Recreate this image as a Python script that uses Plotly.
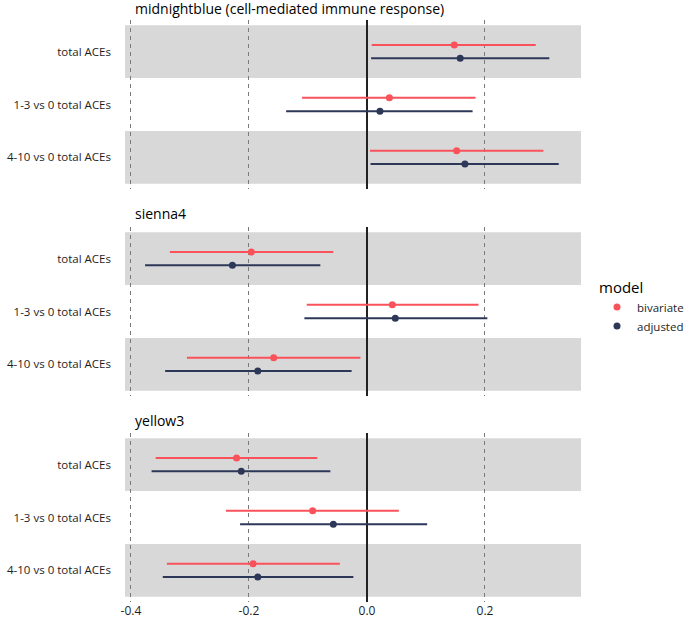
import plotly.graph_objects as go
from plotly.subplots import make_subplots

# ---------------- data ----------------
panels = ["midnightblue (cell-mediated immune response)", "sienna4", "yellow3"]
categories = ["total ACEs", "1-3 vs 0 total ACEs", "4-10 vs 0 total ACEs"]
models = ["bivariate", "adjusted"]

# estimates and 95% CI per panel (order follows categories)
biv_est = [[0.148, 0.038, 0.152], [-0.196, 0.043, -0.158], [-0.221, -0.092, -0.193]]
biv_lo = [[0.008, -0.110, 0.005], [-0.334, -0.102, -0.305], [-0.358, -0.239, -0.339]]
biv_hi = [[0.286, 0.184, 0.299], [-0.057, 0.189, -0.011], [-0.084, 0.054, -0.046]]

adj_est = [[0.158, 0.022, 0.166], [-0.228, 0.048, -0.185], [-0.213, -0.057, -0.185]]
adj_lo = [[0.007, -0.137, 0.006], [-0.376, -0.106, -0.342], [-0.365, -0.215, -0.346]]
adj_hi = [[0.309, 0.179, 0.325], [-0.079, 0.204, -0.026], [-0.062, 0.102, -0.023]]

x_tickvals = [-0.4, -0.2, 0.0, 0.2]
x_ticktext = ["-0.4", "-0.2", "0.0", "0.2"]

# ---------------- style ----------------
W, H = 685, 620
# plot area in px: x 125..581, y 20..602
L, R, T, B = 125, W - 581, 20, H - 602
PW, PH = W - L - R, H - T - B
RED = "#F9525A"
NAVY = "#2D3859"
BAND = "#D9D8D9"
FONT = "Open Sans"
panel_px = [(20, 189), (227, 396), (433, 602)]
title_px = [8, 213, 420]
DODGE = 0.126


def py(y):
    """pixel y -> paper fraction"""
    return (H - B - y) / PH


def px(x):
    """pixel x -> paper fraction"""
    return (x - L) / PW


fig = make_subplots(rows=3, cols=1, vertical_spacing=0.05)

series = [
    ("bivariate", RED, biv_est, biv_lo, biv_hi, -DODGE),
    ("adjusted", NAVY, adj_est, adj_lo, adj_hi, DODGE),
]

for p in range(3):
    for name, col, est, lo, hi, off in series:
        e = est[p]
        fig.add_trace(
            go.Scatter(
                x=e,
                y=[i + 1 + off for i in range(len(categories))],
                mode="markers",
                name=name,
                legendgroup=name,
                showlegend=(p == 0),
                marker=dict(color=col, size=7),
                error_x=dict(
                    type="data",
                    symmetric=False,
                    array=[h - v for h, v in zip(hi[p], e)],
                    arrayminus=[v - l for v, l in zip(e, lo[p])],
                    width=0,
                    thickness=2,
                    color=col,
                ),
            ),
            row=p + 1,
            col=1,
        )

shapes = []
annotations = []
for p in range(3):
    sfx = "" if p == 0 else str(p + 1)
    top, bot = panel_px[p]
    fig.layout[f"yaxis{sfx}"].update(
        domain=[py(bot), py(top)],
        range=[3.6, 0.4],
        tickvals=[1, 2, 3],
        ticktext=categories,
        showgrid=False,
        zeroline=False,
        ticks="",
        ticklabelstandoff=13,
        tickfont=dict(family=FONT, size=11.5, color="#1e1e1e"),
        showline=False,
    )
    fig.layout[f"xaxis{sfx}"].update(
        range=[-0.41, 0.3627],
        tickvals=x_tickvals,
        ticktext=x_ticktext,
        showgrid=True,
        griddash="4px,4px",
        gridcolor="#7a7a7a",
        gridwidth=1,
        zeroline=True,
        zerolinecolor="#222222",
        zerolinewidth=1.6,
        showticklabels=(p == 2),
        ticks="",
        tickfont=dict(family=FONT, size=12, color="#1e1e1e"),
        showline=False,
    )
    for i in (1, 3):
        shapes.append(
            dict(
                type="rect",
                xref=f"x{sfx} domain",
                x0=0,
                x1=1,
                yref=f"y{sfx}",
                y0=i - 0.5,
                y1=i + 0.5,
                fillcolor=BAND,
                line=dict(width=0),
                layer="below",
            )
        )
    annotations.append(
        dict(
            text=panels[p],
            xref="paper",
            yref="paper",
            x=px(133),
            y=py(title_px[p]),
            xanchor="left",
            yanchor="middle",
            showarrow=False,
            font=dict(family=FONT, size=14, color="#000"),
        )
    )

fig.update_layout(
    width=W,
    height=H,
    margin=dict(l=L, r=R, t=T, b=B, autoexpand=False),
    paper_bgcolor="white",
    plot_bgcolor="white",
    shapes=shapes,
    annotations=annotations,
    font=dict(family=FONT, color="#1e1e1e"),
    legend=dict(
        title=dict(text="model", font=dict(family=FONT, size=15, color="#000")),
        font=dict(family=FONT, size=11.5, color="#1e1e1e"),
        x=px(597),
        xanchor="left",
        y=py(273),
        yanchor="top",
        itemwidth=30,
        tracegroupgap=0,
        bgcolor="rgba(0,0,0,0)",
    ),
)

fig.write_html(
    "out.html",
    config={"displayModeBar": False},
    post_script=(
        "document.body.style.margin='0';"
        "document.body.style.overflow='hidden';"
        "document.documentElement.style.overflow='hidden';"
    ),
)
